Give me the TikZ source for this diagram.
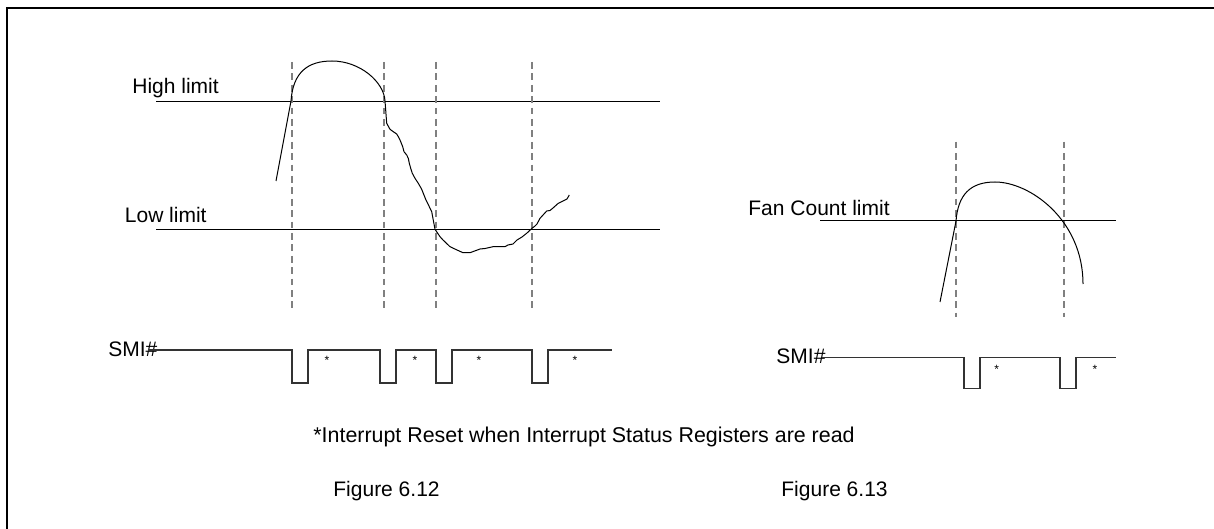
\documentclass[tikz,border=0pt]{standalone}
\usepackage{fontspec}
\setmainfont{Liberation Sans}
\usepackage{xcolor}
\usepackage{tikz}
\tikzstyle{caption} = [inner sep=0pt, anchor=base west, font=\fontsize{10.5}{12}\selectfont]
\tikzstyle{star} = [inner sep=0pt, font=\fontsize{6}{7}\selectfont]
\tikzstyle{limit} = [draw=black, line width=0.55pt]
\tikzstyle{guide} = [draw=gray, line width=0.85pt, dash pattern=on 3.4pt off 2.3pt]
\tikzstyle{signal} = [draw=black!80, line width=0.6pt]
\tikzstyle{curve} = [draw=black, line width=0.5pt, line join=round]

\begin{document}
\begin{tikzpicture}[x=0.5pt, y=-0.5pt]
		\useasboundingbox (0,0) rectangle (1214,529);
		\draw [line width=1pt] (7,529) -- (7,8.5) -- (1214,8.5);
		% Figure 6.12
		\node (High Limit)[caption] at (132,94) {High limit};
		\node (Low Limit)[caption] at (124.5,222.3) {Low limit};
		\draw [limit] (156,101.3) -- (660,101.3);
		\draw [limit] (156,229.3) -- (660,229.3);
		\draw [guide] (291.7,62) -- (291.7,309);
		\draw [guide] (384,62) -- (384,309);
		\draw [guide] (435.7,62) -- (435.7,309);
		\draw [guide] (532,62) -- (532,309);
		\draw [curve] (276,181) -- (291,101) .. controls (293,72) and (308,61) .. (332,61)
			.. controls (360,61) and (384,82) .. (385,101) -- (386.7,123.3) -- (390,129.3)
			-- (393.3,131.7) -- (396.7,134) -- (398.3,136.7) -- (400,140) -- (402.7,146.7)
			-- (404,151.7) -- (406.7,155) -- (408.3,158.3) -- (409.3,163.3) -- (410.7,168.3)
			-- (412.3,173.3) -- (415,178.3) -- (418.3,183.3) -- (421.7,189.3) -- (425.7,199.3)
			-- (431.7,211.7) -- (435,229.3) -- (440,236.7) -- (443,240) -- (450,246.7)
			-- (457,250) -- (463,252.7) -- (470,252.7) -- (476,250.5) -- (480,249)
			-- (485,248.5) -- (493,246.7) -- (505,246.7) -- (508,245) -- (513,244)
			-- (517,240) -- (522,237) -- (527,233) -- (532,228.3) -- (535,226) -- (537,224)
			-- (540,218.3) -- (546.7,211) -- (550,210.5) -- (553,208) -- (558,203.5)
			-- (563,201) -- (567,199) -- (569.3,195);
		\node (SMI Left)[caption] at (108,356) {SMI\#};
		\draw [signal] (148,350) -- (292,350) -- (292,383) -- (308,383) -- (308,350)
			-- (380,350) -- (380,383) -- (396,383) -- (396,350) -- (436,350) -- (436,383)
			-- (452,383) -- (452,350) -- (532,350) -- (532,383) -- (548,383) -- (548,350)
			-- (612,350);
		\node (Reset A)[star] at (327,360.5) {*};
		\node (Reset B)[star] at (415,360.5) {*};
		\node (Reset C)[star] at (479,360.5) {*};
		\node (Reset D)[star] at (575,360.5) {*};
		% Figure 6.13
		\node (Fan Limit)[caption] at (748,215) {Fan Count limit};
		\draw [limit] (820,220.7) -- (1116,220.7);
		\draw [guide] (956,141.7) -- (956,316.7);
		\draw [guide] (1064,141.7) -- (1064,316.7);
		\draw [curve] (940,302) -- (956,221) .. controls (958,195) and (970,182) .. (995,182)
			.. controls (1030,182) and (1083,220) .. (1083,284);
		\node (SMI Right)[caption] at (776,363.3) {SMI\#};
		\draw [signal] (822,357.3) -- (964,357.3) -- (964,388.3) -- (980,388.3) -- (980,357.3)
			-- (1060,357.3) -- (1060,388.3) -- (1076,388.3) -- (1076,357.3) -- (1116,357.3);
		\node (Reset E)[star] at (996.7,369) {*};
		\node (Reset F)[star] at (1095,369) {*};
		% notes
		\node (Note)[caption, font=\fontsize{10.7}{12}\selectfont] at (313,442) {*Interrupt Reset when Interrupt Status Registers are read};
		\node (Figure Left)[caption] at (333,496) {Figure 6.12};
		\node (Figure Right)[caption] at (781,496) {Figure 6.13};
	\end{tikzpicture}
\end{document}
